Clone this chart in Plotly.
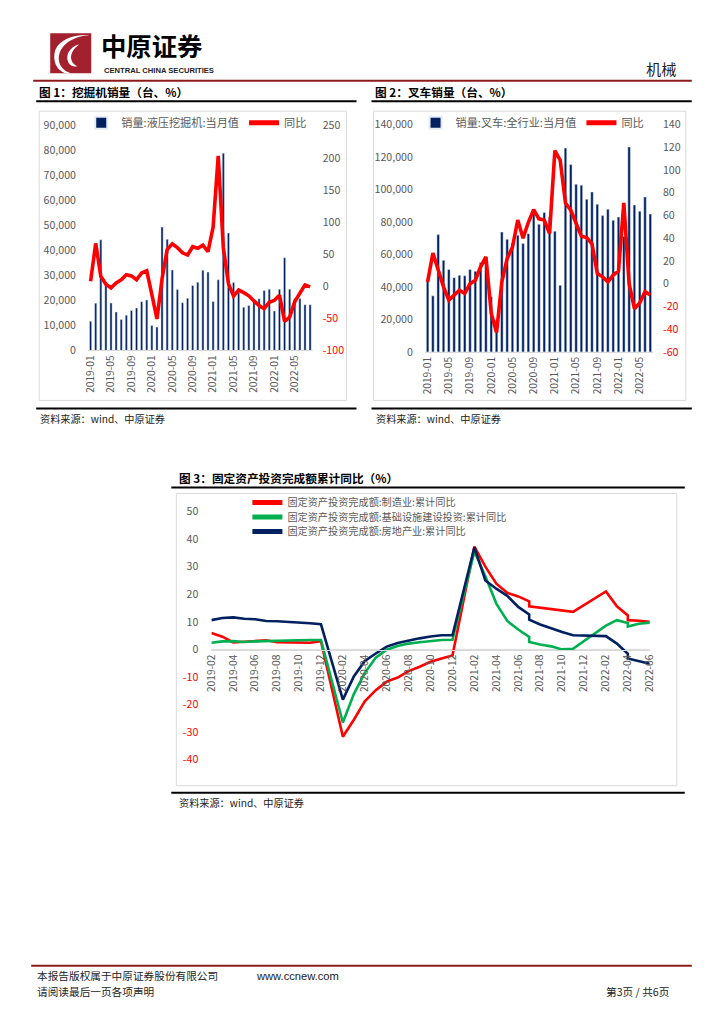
import plotly.graph_objects as go

W, H = 724, 1024
# the photographed picture shows the page slightly reduced; map reference pixel positions to page positions
SX, SY = 724 / 740, 1024 / 1040
def px(x): return (x / SX - 8) / W
def py(y): return 1 - (y / SY - 8) / H
def fs(s): return round(s / SY, 2)

FONT = "Noto Sans CJK SC"
GREY = "#595959"
NAVY = "#002060"
RED = "#FF0000"
GREEN = "#00B050"

# ---------------- Chart 1: excavator ----------------
exc_months = ["2019-01","2019-02","2019-03","2019-04","2019-05","2019-06","2019-07","2019-08","2019-09","2019-10","2019-11","2019-12",
              "2020-01","2020-02","2020-03","2020-04","2020-05","2020-06","2020-07","2020-08","2020-09","2020-10","2020-11","2020-12",
              "2021-01","2021-02","2021-03","2021-04","2021-05","2021-06","2021-07","2021-08","2021-09","2021-10","2021-11","2021-12",
              "2022-01","2022-02","2022-03","2022-04","2022-05","2022-06","2022-07","2022-08"]
exc_sales = [11700, 18900, 44300, 27300, 19000, 15400, 12400, 14100, 16000, 17000, 19500, 20200,
             10000, 9400, 49400, 44500, 32200, 24400, 19100, 20900, 26000, 27300, 32100, 31400,
             19600, 28300, 79000, 47000, 27200, 23100, 17300, 18000, 20100, 20700, 24000, 24500,
             15800, 24500, 37100, 24500, 20800, 20800, 18300, 18300]
exc_yoy = [7.7, 66.7, 15.4, 3, -2.6, 5, 10, 18, 16, 10, 20.5, 24,
           -13, -51, 11.5, 57, 66, 60, 52, 48.5, 61.5, 59, 64, 54,
           92, 203, 60, 4, -15.5, -6, -10, -15, -23, -30, -35, -25,
           -22, -14, -55, -48, -24, -10, 2, -1]
exc_ticks = ["2019-01","2019-05","2019-09","2020-01","2020-05","2020-09","2021-01","2021-05","2021-09","2022-01","2022-05"]
exc_left_ticks = [0, 10000, 20000, 30000, 40000, 50000, 60000, 70000, 80000, 90000]
exc_right_ticks = [-100, -50, 0, 50, 100, 150, 200, 250]

# ---------------- Chart 2: forklift ----------------
fork_months = exc_months[:43]
fork_sales = [43700, 34500, 72200, 56400, 50700, 45700, 47200, 46800, 50700, 49600, 55000, 58000,
              34000, 19700, 73800, 69300, 67000, 71800, 66700, 72800, 85200, 78600, 85800, 83000,
              74300, 41000, 125500, 115300, 103200, 102600, 94000, 98500, 90900, 83900, 87800, 81000,
              83000, 71000, 126200, 90500, 86600, 95400, 84900]
fork_yoy = [1.6, 27, 12, -2.8, -14.5, -10, -5.7, -8.6, 0, 3, 14.8, 23.6,
            -26, -43, 1.6, 22, 32, 56, 40, 54, 65, 57, 56, 44,
            117, 108.6, 71, 64.6, 53, 41.8, 40.6, 35, 9, 6, 1.6, 7.5,
            11, 71, 0, -22, -17, -7, -10]
fork_ticks = exc_ticks
fork_left_ticks = [0, 20000, 40000, 60000, 80000, 100000, 120000, 140000]
fork_right_ticks = [-60, -40, -20, 0, 20, 40, 60, 80, 100, 120, 140]

# ---------------- Chart 3: FAI cumulative yoy ----------------
fai_axis_months = ["2019-02","2019-03","2019-04","2019-05","2019-06","2019-07","2019-08","2019-09","2019-10","2019-11","2019-12","2020-01",
                   "2020-02","2020-03","2020-04","2020-05","2020-06","2020-07","2020-08","2020-09","2020-10","2020-11","2020-12","2021-01",
                   "2021-02","2021-03","2021-04","2021-05","2021-06","2021-07","2021-08","2021-09","2021-10","2021-11","2021-12","2022-01",
                   "2022-02","2022-03","2022-04","2022-05","2022-06"]
fai_dates = ["2019-02","2019-03","2019-04","2019-05","2019-06","2019-07","2019-08","2019-09","2019-10","2019-11","2019-12",
             "2020-02","2020-03","2020-04","2020-05","2020-06","2020-07","2020-08","2020-09","2020-10","2020-11","2020-12",
             "2021-02","2021-03","2021-04","2021-05","2021-06","2021-07","2021-07","2021-08","2021-09","2021-10","2021-11",
             "2022-02","2022-03","2022-04","2022-04","2022-05","2022-06"]
fai_mfg = [5.9, 4.6, 2.5, 2.7, 3.0, 3.3, 2.6, 2.5, 2.5, 2.4, 3.0,
           -31.7, -25.5, -18.8, -14.8, -11.7, -10.2, -7.9, -6.3, -4.5, -3.3, -2.2,
           37.3, 30.0, 23.8, 20.5, 19.2, 17.4, 15.6, 15.1, 14.6, 14.1, 13.6,
           21.0, 15.6, 12.3, 10.6, 10.4, 10.0]
fai_infra = [2.4, 2.9, 3.0, 2.7, 2.9, 3.0, 3.3, 3.4, 3.3, 3.4, 3.4,
             -26.5, -16.2, -8.5, -3.0, -0.1, 1.2, 2.1, 2.6, 3.1, 3.4, 3.5,
             35.5, 26.5, 16.6, 10.3, 7.2, 4.5, 2.7, 1.8, 1.1, 0.0, 0.2,
             8.6, 10.6, 9.6, 8.3, 9.3, 9.7]
fai_re = [10.6, 11.4, 11.6, 11.1, 10.9, 10.3, 10.2, 10.0, 9.7, 9.5, 9.1,
          -18.2, -9.8, -4.2, -1.5, 1.0, 2.3, 3.2, 4.0, 4.7, 5.1, 5.1,
          37.0, 25.0, 22.0, 19.4, 15.4, 12.7, 10.8, 9.0, 7.6, 6.3, 5.1,
          4.8, 2.1, -1.6, -3.3, -4.3, -5.2]
fai_ticks = fai_axis_months[::2]
fai_y_ticks = [-40, -30, -20, -10, 0, 10, 20, 30, 40, 50]


def red_neg(v, fmt="{:,}"):
    s = fmt.format(v)
    return f"<span style='color:{RED}'>{s}</span>" if v < 0 else s


fig = go.Figure()

fig.add_trace(go.Bar(x=exc_months, y=exc_sales, name="销量:液压挖掘机:当月值", marker=dict(color=NAVY),
                     width=0.42, xaxis="x", yaxis="y", legend="legend"))
fig.add_trace(go.Scatter(x=exc_months, y=exc_yoy, name="同比", mode="lines", line=dict(color=RED, width=3.6),
                         xaxis="x", yaxis="y2", legend="legend"))
fig.add_trace(go.Bar(x=fork_months, y=fork_sales, name="销量:叉车:全行业:当月值", marker=dict(color=NAVY),
                     width=0.48, xaxis="x2", yaxis="y3", legend="legend2"))
fig.add_trace(go.Scatter(x=fork_months, y=fork_yoy, name="同比", mode="lines", line=dict(color=RED, width=3.6),
                         xaxis="x2", yaxis="y4", legend="legend2"))
fig.add_trace(go.Scatter(x=fai_dates, y=fai_mfg, name="固定资产投资完成额:制造业:累计同比", mode="lines",
                         line=dict(color=RED, width=2.6), xaxis="x3", yaxis="y5", legend="legend3"))
fig.add_trace(go.Scatter(x=fai_dates, y=fai_infra, name="固定资产投资完成额:基础设施建设投资:累计同比", mode="lines",
                         line=dict(color=GREEN, width=2.6), xaxis="x3", yaxis="y5", legend="legend4"))
fig.add_trace(go.Scatter(x=fai_dates, y=fai_re, name="固定资产投资完成额:房地产业:累计同比", mode="lines",
                         line=dict(color=NAVY, width=2.6), xaxis="x3", yaxis="y5", legend="legend5"))

tickfont = dict(family=FONT, size=fs(10.5), color=GREY)
xtickfont = dict(family=FONT, size=fs(10), color=GREY)

common_x = dict(type="category", tickangle=-90, tickfont=xtickfont, ticks="", showgrid=False,
                zeroline=False, showline=True, linecolor="#D9D9D9", linewidth=1)

def legend_at(x, y, size=11, orientation="h"):
    return dict(orientation=orientation, x=px(x), y=py(y), xanchor="left", yanchor="top",
                font=dict(family=FONT, size=fs(size), color=GREY), bgcolor="rgba(0,0,0,0)",
                itemwidth=30, tracegroupgap=0, itemsizing="constant")

fig.update_layout(
    width=W, height=H, autosize=False,
    margin=dict(l=0, r=0, t=0, b=0),
    paper_bgcolor="white", plot_bgcolor="white",
    font=dict(family=FONT, color=GREY),
    barmode="overlay",
    xaxis=dict(common_x, domain=[px(86.8), px(311.2)], anchor="y",
               categoryorder="array", categoryarray=exc_months,
               tickmode="array", tickvals=exc_ticks, ticktext=exc_ticks,
               range=[-0.5, len(exc_months) - 0.5]),
    yaxis=dict(domain=[py(350), py(125.5)], range=[0, 90000], tickmode="array",
               tickvals=exc_left_ticks, ticktext=[f"{v:,}" for v in exc_left_ticks],
               showgrid=False, zeroline=False, showline=False, ticks="", tickfont=tickfont,
               ticklabelstandoff=11, anchor="x"),
    yaxis2=dict(overlaying="y", side="right", anchor="x", range=[-100, 250], tickmode="array",
                tickvals=exc_right_ticks, ticktext=[red_neg(v) for v in exc_right_ticks],
                showgrid=False, zeroline=False, showline=False, ticks="", tickfont=tickfont,
                ticklabelstandoff=9),
    xaxis2=dict(common_x, domain=[px(423.4), px(651.2)], anchor="y3",
                categoryorder="array", categoryarray=fork_months,
                tickmode="array", tickvals=fork_ticks, ticktext=fork_ticks,
                range=[-0.5, len(fork_months) - 0.5]),
    yaxis3=dict(domain=[py(351.5), py(124.3)], range=[0, 140000], tickmode="array",
                tickvals=fork_left_ticks, ticktext=[f"{v:,}" for v in fork_left_ticks],
                showgrid=False, zeroline=False, showline=False, ticks="", tickfont=tickfont,
                ticklabelstandoff=11, anchor="x2"),
    yaxis4=dict(overlaying="y3", side="right", anchor="x2", range=[-60, 140], tickmode="array",
                tickvals=fork_right_ticks, ticktext=[red_neg(v) for v in fork_right_ticks],
                showgrid=False, zeroline=False, showline=False, ticks="", tickfont=tickfont,
                ticklabelstandoff=9),
    xaxis3=dict(type="category", categoryorder="array", categoryarray=fai_axis_months,
                domain=[px(210), px(648)], anchor="free", position=py(649),
                range=[0, len(fai_axis_months) - 1], tickmode="array", tickvals=fai_ticks, ticktext=fai_ticks,
                tickangle=-90, tickfont=xtickfont, ticks="", showgrid=False, zeroline=False,
                showline=True, linecolor="#D9D9D9", linewidth=1),
    yaxis5=dict(domain=[py(759), py(511)], range=[-40, 50], anchor="x3", tickmode="array",
                tickvals=fai_y_ticks, ticktext=[red_neg(v) for v in fai_y_ticks],
                showgrid=False, zeroline=False, showline=False, ticks="", tickfont=tickfont,
                ticklabelstandoff=12),
    legend=legend_at(80, 108),
    legend2=legend_at(414, 108),
    legend3=legend_at(246, 487.5, 10, "v"),
    legend4=legend_at(246, 502, 10, "v"),
    legend5=legend_at(246, 516.5, 10, "v"),
    showlegend=True,
)

shapes = []
def hline(x0, x1, y, color, width):
    shapes.append(dict(type="line", xref="paper", yref="paper", x0=px(x0), x1=px(x1), y0=py(y), y1=py(y),
                       line=dict(color=color, width=width), layer="above"))
def frame(x0, y0, x1, y1):
    shapes.append(dict(type="rect", xref="paper", yref="paper", x0=px(x0), x1=px(x1), y0=py(y1), y1=py(y0),
                       line=dict(color="#D9D9D9", width=1), fillcolor="rgba(0,0,0,0)", layer="below"))

DARKRED = "#8E1B1B"
hline(32, 690, 80.5, DARKRED, 2)
hline(35, 355, 101, "black", 2)
hline(370, 690, 101, "black", 2)
frame(38, 111, 345, 400)
frame(372, 111, 684, 400)
hline(35, 355, 408, "black", 2)
hline(370, 690, 408, "black", 2)
hline(170, 683, 487, "black", 2)
frame(175, 493, 675, 785)
hline(170, 683, 792, "black", 2)
hline(30, 690, 965, DARKRED, 2)
shapes.append(dict(type="line", xref="x3 domain", yref="y5", x0=0, x1=1, y0=0, y1=0,
                   line=dict(color="#D9D9D9", width=1), layer="below"))

# logo
LOGO_RED = "#A3202E"
shapes.append(dict(type="rect", xref="paper", yref="paper", x0=px(49), x1=px(90), y0=py(73), y1=py(33),
                   fillcolor=LOGO_RED, line=dict(width=0)))
def P(x, y): return f"{px(x):.5f},{py(y):.5f}"
shapes.append(dict(type="path", xref="paper", yref="paper",
                   path=f"M {P(88,35)} C {P(70,36)} {P(55,47)} {P(58,62)} C {P(60,69)} {P(66,72)} {P(70,73)} "
                        f"L {P(64,73)} C {P(55,70)} {P(51,60)} {P(54,50)} C {P(58,40)} {P(72,34)} {P(88,35)} Z",
                   fillcolor="white", line=dict(width=0)))
shapes.append(dict(type="path", xref="paper", yref="paper",
                   path=f"M {P(78,44)} C {P(68,47)} {P(64,55)} {P(67,62)} C {P(69,66)} {P(73,67)} {P(76,66)} "
                        f"C {P(71,64)} {P(68,58)} {P(71,52)} C {P(73,48)} {P(76,46)} {P(78,44)} Z",
                   fillcolor="white", line=dict(width=0)))
fig.update_layout(shapes=shapes)

ann = []
def text(x, y, s, size, color="black", bold=False, xanchor="left", family=FONT, yanchor="middle"):
    ann.append(dict(xref="paper", yref="paper", x=px(x), y=py(y), text=(f"<b>{s}</b>" if bold else s),
                    showarrow=False, xanchor=xanchor, yanchor=yanchor,
                    font=dict(family=family, size=fs(size), color=color)))

text(98, 65, "中原证券", 25, "black", bold=True, yanchor="bottom")
text(101, 70, "CENTRAL CHINA SECURITIES", 7.5, "#222222", bold=True, family="Liberation Sans")
text(676, 68, "机械", 15, "#222222", xanchor="right")
text(36, 91, "图 1：挖掘机销量（台、%）", 11.5, "black", bold=True)
text(371, 91, "图 2：叉车销量（台、%）", 11.5, "black", bold=True)
text(37, 418, "资料来源：wind、中原证券", 10, "#222222")
text(372, 418, "资料来源：wind、中原证券", 10, "#222222")
text(176, 477, "图 3：固定资产投资完成额累计同比（%）", 11.5, "black", bold=True)
text(176, 802, "资料来源：wind、中原证券", 10, "#222222")
text(34, 975, "本报告版权属于中原证券股份有限公司", 10.5, "#222222")
text(253, 975, "www.ccnew.com", 11, "#222222", family="Liberation Sans")
text(34, 991, "请阅读最后一页各项声明", 10.5, "#222222")
text(669, 991, "第3页 / 共6页", 10.5, "#222222", xanchor="right")
fig.update_layout(annotations=ann)

fig.write_html("out.html", config={"displayModeBar": False},
               post_script="document.body.style.margin='0';document.body.style.overflow='hidden';")
